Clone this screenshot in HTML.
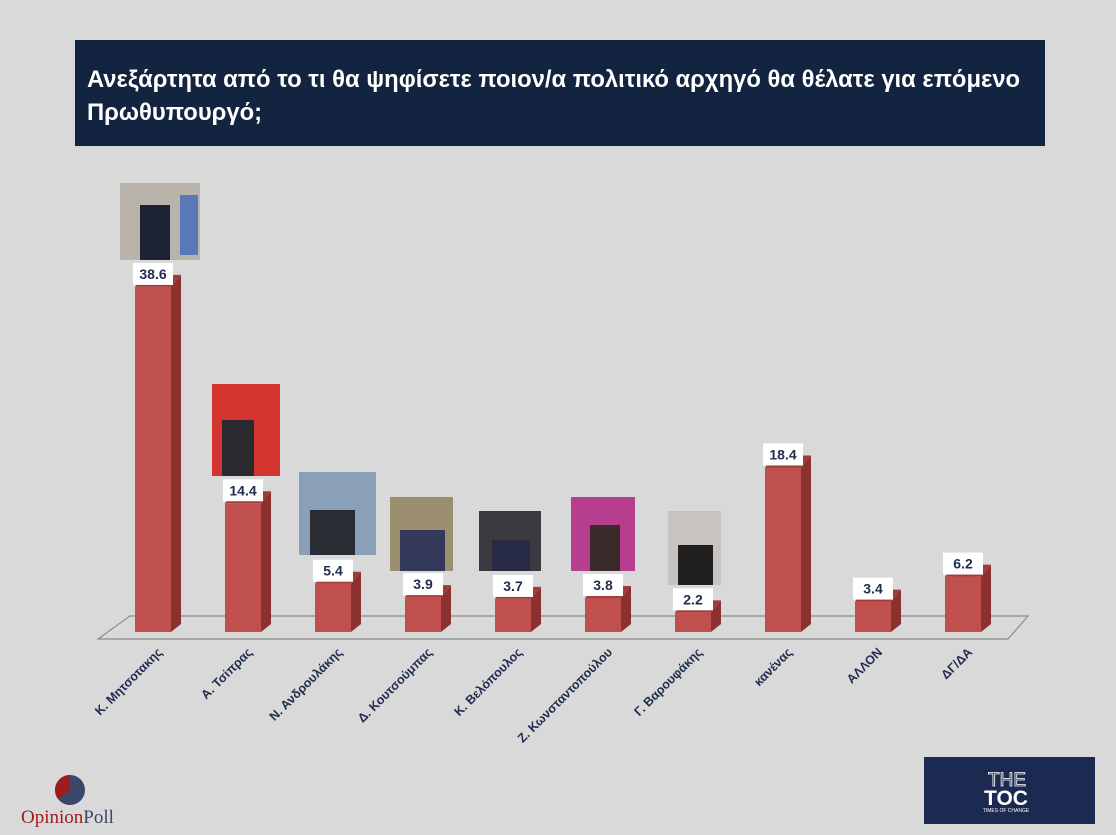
<!DOCTYPE html>
<html><head><meta charset="utf-8"><style>
body{margin:0;background:#d9d9d9;}
#c{position:relative;width:1116px;height:835px;overflow:hidden;background:#d9d9d9;font-family:"Liberation Sans","DejaVu Sans",sans-serif;}
.title{position:absolute;left:75px;top:40px;width:970px;height:106px;background:#12243f;color:#fff;font-weight:bold;font-size:23.8px;line-height:33px;box-sizing:border-box;padding:23px 0 0 12px;}
</style></head><body><div id="c">
<div class="title">Ανεξάρτητα από το τι θα ψηφίσετε ποιον/α πολιτικό αρχηγό θα θέλατε για επόμενο<br>Πρωθυπουργό;</div>
<svg width="1116" height="835" style="position:absolute;left:0;top:0" font-family="Liberation Sans, DejaVu Sans, sans-serif">
<polygon points="98,639 1008,639 1028,616 130,616" fill="#d9d9d9" stroke="#8c8c8c" stroke-width="1.2"/>
<g id="bars"></g>
<rect x="120" y="183" width="80" height="77" fill="#b9b4ab"/><rect x="140" y="205" width="30" height="55" fill="#1d2333"/><rect x="180" y="195" width="18" height="60" fill="#5a78b8"/>
<rect x="212" y="384" width="68" height="92" fill="#d3342f"/><rect x="222" y="420" width="32" height="56" fill="#2a2a2e"/>
<rect x="299" y="472" width="77" height="83" fill="#8aa0b8"/><rect x="310" y="510" width="45" height="45" fill="#2a2c33"/>
<rect x="390" y="497" width="63" height="74" fill="#9b8f6f"/><rect x="400" y="530" width="45" height="41" fill="#34385a"/>
<rect x="479" y="511" width="62" height="60" fill="#3a3a40"/><rect x="492" y="540" width="38" height="31" fill="#262a44"/>
<rect x="571" y="497" width="64" height="74" fill="#b73d8f"/><rect x="590" y="525" width="30" height="46" fill="#3a2a2a"/>
<rect x="668" y="511" width="53" height="74" fill="#c8c3bf"/><rect x="678" y="545" width="35" height="40" fill="#202020"/>
<circle cx="70" cy="790" r="15" fill="#3b466b"/><path d="M70,790 L70,775 A15,15 0 0 0 58,799 Z" fill="#a01c1c"/>
<text x="21" y="823" font-family="Liberation Serif, serif" font-size="19" fill="#a01c1c">Opinion<tspan fill="#3b466b">Poll</tspan></text>
<rect x="924" y="757" width="171" height="67" fill="#1c2951"/>
<text x="1007" y="786" font-size="19" fill="none" stroke="#fff" stroke-width="0.8" text-anchor="middle">THE</text>
<text x="1006" y="805" font-size="21" font-weight="bold" fill="#fff" text-anchor="middle">TOC</text>
<text x="1006" y="812" font-size="5" fill="#fff" text-anchor="middle">TIMES OF CHANGE</text>
</svg>
<script>
var d=[["Κ. Μητσοτακης",38.6],["Α. Τσίπρας",14.4],["Ν. Ανδρουλάκης",5.4],["Δ. Κουτσούμπας",3.9],["Κ. Βελόπουλος",3.7],["Ζ. Κωνσταντοπούλου",3.8],["Γ. Βαρουφάκης",2.2],["κανένας",18.4],["ΑΛΛΟΝ",3.4],["ΔΓ/ΔΑ",6.2]];
var s="";d.forEach(function(e,i){var cx=153+90*i,x=cx-18,b=632,t=b-e[1]*8.94;
s+='<polygon points="'+(x+36)+','+b+' '+(x+46)+','+(b-8)+' '+(x+46)+','+(t-12)+' '+(x+36)+','+t+'" fill="#8b3231"/>';
s+='<polygon points="'+x+','+t+' '+(x+36)+','+t+' '+(x+46)+','+(t-12)+' '+(x+10)+','+(t-12)+'" fill="#a33a38"/>';
s+='<rect x="'+x+'" y="'+t+'" width="36" height="'+(b-t)+'" fill="#c0504d"/>';
s+='<rect x="'+(cx-20)+'" y="'+(t-24)+'" width="40" height="22" fill="#fff"/>';
s+='<text x="'+cx+'" y="'+(t-8)+'" font-size="14" font-weight="bold" fill="#1f2d4d" text-anchor="middle">'+e[1].toFixed(1)+'</text>';
s+='<text transform="translate('+(cx+10)+',653) rotate(-45)" font-size="12.5" font-weight="bold" fill="#1f2d4d" text-anchor="end">'+e[0]+'</text>';});
document.getElementById("bars").innerHTML=s;
</script>
</div></body></html>
